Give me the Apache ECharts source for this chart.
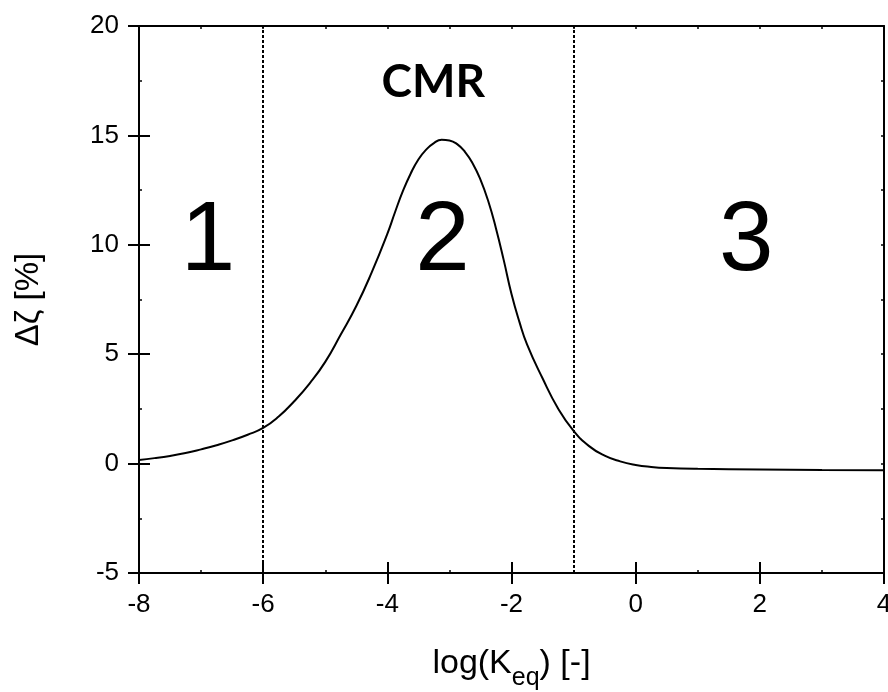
<!DOCTYPE html>
<html>
<head>
<meta charset="utf-8">
<script src="https://cdn.jsdelivr.net/npm/echarts@6/dist/echarts.min.js"></script>
<style>
  html, body { margin: 0; padding: 0; background: #fff; }
  #main { width: 888px; height: 692px; }
</style>
</head>
<body>
<div id="main"></div>
<script>
// curve
const logK = [-8, -7.75, -7.5, -7.25, -7, -6.75, -6.5, -6.25, -6, -5.75, -5.5, -5.25, -5, -4.75, -4.5, -4.25,
  -4, -3.875, -3.75, -3.625, -3.5, -3.375, -3.25, -3.125, -3, -2.875, -2.75, -2.625, -2.5, -2.375, -2.25, -2.125, -2, -1.875,
  -1.75, -1.5, -1.25, -1, -0.75, -0.5, -0.25, 0, 0.25, 0.5, 1, 2, 3, 4]
const dZeta = [0.17, 0.25, 0.35, 0.48, 0.65, 0.84, 1.06, 1.32, 1.63, 2.15, 2.85, 3.67, 4.65, 5.9, 7.2, 8.75,
  10.5, 11.5, 12.45, 13.25, 13.9, 14.35, 14.65, 14.8, 14.77, 14.6, 14.25, 13.72, 12.98, 12.0, 10.75, 9.3, 7.75, 6.5,
  5.45, 3.9, 2.52, 1.5, 0.8, 0.36, 0.1, -0.06, -0.15, -0.2, -0.24, -0.27, -0.29, -0.3]

// region borders (dotted verticals)
const dividers = [-6, -1]

// region labels
const regionText = ['1', '2', '3']
const regionX = [-6.89, -3.11, 1.78]
const regionY = [10.1, 10.1, 10.1]
const titleText = ['CMR']
const titleX = [-3.26]
const titleY = [17.45]

const font = 'Liberation Sans, Arial, sans-serif'

var chart = echarts.init(document.getElementById('main'), null, { renderer: 'canvas' })

const axisLine = { show: true, onZero: false, lineStyle: { color: '#000', width: 2 } }
const noLabel = { show: false }

function hAxis(pos, opts) {
  return Object.assign({
    type: 'value', position: pos, min: -8, max: 4, interval: 2,
    axisLine: axisLine, splitLine: { show: false }, axisLabel: noLabel
  }, opts)
}
function vAxis(pos, opts) {
  return Object.assign({
    type: 'value', position: pos, min: -5, max: 20, interval: 5,
    axisLine: axisLine, splitLine: { show: false }, axisLabel: noLabel
  }, opts)
}

var option = {
  backgroundColor: '#fff',
  animation: false,
  grid: { left: 139, right: 4, top: 26, bottom: 119, outerBoundsMode: 'none', containLabel: false },
  xAxis: [
    hAxis('bottom', {
      axisTick: { inside: false, length: 11, lineStyle: { color: '#000', width: 2 } },
      axisLabel: { show: true, color: '#000', fontSize: 26, fontFamily: font, margin: 19 },
      name: '{a|log(K}{s|eq}{a|) [-]}',
      nameLocation: 'middle',
      nameGap: 63,
      nameTextStyle: {
        rich: {
          a: { fontSize: 34, fontFamily: font, color: '#000' },
          s: { fontSize: 25, fontFamily: font, color: '#000', padding: [30, 0, 0, 0] }
        }
      }
    }),
    hAxis('bottom', {
      axisTick: { inside: true, length: 11, lineStyle: { color: '#000', width: 2 } },
      minorTick: { show: true, splitNumber: 2, length: 3, lineStyle: { color: '#000', width: 1.5 } }
    }),
    hAxis('top', {
      axisTick: { inside: true, length: 3, lineStyle: { color: '#000', width: 1.5 } },
      minorTick: { show: true, splitNumber: 2, length: 3, lineStyle: { color: '#000', width: 1.5 } }
    })
  ],
  yAxis: [
    vAxis('left', {
      axisTick: { inside: false, length: 11, lineStyle: { color: '#000', width: 2 } },
      axisLabel: { show: true, color: '#000', fontSize: 26, fontFamily: font, margin: 20 },
      name: 'Δζ [%]',
      nameLocation: 'middle',
      nameGap: 94,
      nameTextStyle: { fontSize: 33, fontFamily: font, color: '#000' }
    }),
    vAxis('left', {
      axisTick: { inside: true, length: 11, lineStyle: { color: '#000', width: 2 } },
      minorTick: { show: true, splitNumber: 2, length: 3, lineStyle: { color: '#000', width: 1.5 } }
    }),
    vAxis('right', {
      axisTick: { inside: true, length: 3, lineStyle: { color: '#000', width: 1.5 } },
      minorTick: { show: true, splitNumber: 2, length: 3, lineStyle: { color: '#000', width: 1.5 } }
    })
  ],
  series: [
    {
      type: 'line',
      data: logK.map((x, i) => [x, dZeta[i]]),
      showSymbol: false,
      smooth: true,
      lineStyle: { color: '#000', width: 2 },
      markLine: {
        silent: true,
        symbol: ['none', 'none'],
        label: { show: false },
        lineStyle: { color: '#000', width: 2, type: [3, 2] },
        data: dividers.map(x => ({ xAxis: x }))
      },
      z: 3
    },
    {
      type: 'scatter',
      symbolSize: 0,
      itemStyle: { opacity: 1 },
      data: regionText.map((t, i) => ({ name: t, value: [regionX[i], regionY[i]] })),
      label: {
        show: true, position: 'inside', formatter: '{b}',
        color: '#000', fontSize: 98, fontFamily: font
      }
    },
    {
      type: 'scatter',
      symbolSize: 0,
      itemStyle: { opacity: 1 },
      data: titleText.map((t, i) => ({ name: t, value: [titleX[i], titleY[i]] })),
      label: {
        show: true, position: 'inside', formatter: '{b}',
        color: '#000', fontSize: 46, fontWeight: 'bold', fontFamily: 'Lato, Open Sans, sans-serif'
      }
    }
  ]
}

option && chart.setOption(option)
</script>
</body>
</html>
